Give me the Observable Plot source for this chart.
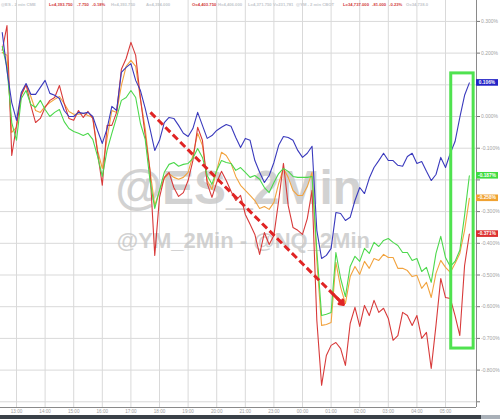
<!DOCTYPE html>
<html><head><meta charset="utf-8">
<script src="https://cdn.jsdelivr.net/npm/d3@7"></script>
<script src="https://cdn.jsdelivr.net/npm/@observablehq/plot@0.6"></script>
<style>
html,body{margin:0;padding:0;background:#fff;}
#wrap{position:relative;width:500px;height:419px;overflow:hidden;font-family:"Liberation Sans",Arial,sans-serif;}
#chart{position:absolute;left:0;top:0;}
#hdr{position:absolute;left:0;top:0;width:500px;height:9px;}
#hdr span{position:absolute;top:1.5px;font-size:4.2px;font-weight:bold;white-space:nowrap;line-height:5px;}
.g{color:#c3c7cc}.r{color:#d23a3a}
#bar{position:absolute;left:0;top:415px;width:481px;height:4px;background:#3a4148;}
#bar2{position:absolute;left:481px;top:415px;width:19px;height:4px;background:#a9b0b8;}
</style></head><body>
<div id="wrap"><div id="chart"></div><div id="hdr"></div><div id="bar"></div><div id="bar2"></div></div>
<script>
// session minutes from 13:00 (the 22:00 break hour is skipped)
const minutes = [-30,-20,-10,0,10,20,30,40,50,60,
 70,80,90,100,110,120,130,140,150,160,
 170,180,190,200,210,220,230,240,250,260,
 270,280,290,300,310,320,330,340,350,360,
 370,380,390,400,410,420,430,440,450,460,
 470,480,490,500,510,520,530,540,550,560,
 570,580,590,600,610,620,630,640,650,660,
 670,680,690,700,710,720,730,740,750,760,
 770,780,790,800,810,820,830,840,850,860,
 870,880,890,900,910,920,930,940,950];

// % change, blue series
const blueVals = [0.265,0.145,0.044,-0.012,0.076,0.104,0.070,0.070,0.092,0.114,
 0.073,0.067,0.057,0.019,0.000,0.000,0.013,0.010,0.013,0.000,
 -0.044,-0.085,-0.038,0.032,0.019,0.139,0.155,0.167,0.114,0.082,
 0.026,-0.038,-0.107,-0.075,-0.019,-0.003,-0.006,-0.028,-0.053,-0.063,
 -0.038,0.013,-0.028,-0.069,-0.060,-0.044,-0.034,-0.025,-0.031,-0.066,
 -0.098,-0.069,-0.075,-0.139,-0.176,-0.208,-0.186,-0.145,-0.091,-0.063,
 -0.066,-0.075,-0.107,-0.129,-0.116,-0.094,-0.359,-0.448,-0.438,-0.416,
 -0.303,-0.306,-0.328,-0.318,-0.265,-0.224,-0.243,-0.195,-0.161,-0.139,
 -0.116,-0.139,-0.139,-0.154,-0.157,-0.126,-0.116,-0.148,-0.142,-0.173,
 -0.202,-0.183,-0.129,-0.161,-0.116,-0.079,-0.003,0.067,0.106];

const redVals = [0.209,0.287,-0.123,-0.028,0.067,0.101,0.035,-0.019,-0.006,0.029,
 0.051,0.060,0.098,0.041,-0.006,-0.012,0.019,-0.003,0.016,-0.006,
 -0.113,-0.217,-0.028,-0.028,0.013,0.149,0.183,0.234,0.193,0.057,
 -0.060,-0.170,-0.438,-0.255,-0.192,-0.176,-0.224,-0.252,-0.240,-0.202,
 -0.139,-0.034,-0.075,-0.211,-0.255,-0.208,-0.173,-0.202,-0.236,-0.265,
 -0.249,-0.309,-0.340,-0.372,-0.435,-0.366,-0.404,-0.375,-0.265,-0.148,
 -0.281,-0.350,-0.359,-0.372,-0.322,-0.233,-0.643,-0.848,-0.754,-0.722,
 -0.713,-0.732,-0.785,-0.653,-0.602,-0.662,-0.596,-0.628,-0.580,-0.618,
 -0.605,-0.637,-0.706,-0.691,-0.618,-0.628,-0.659,-0.628,-0.700,-0.681,
 -0.795,-0.659,-0.511,-0.571,-0.574,-0.628,-0.691,-0.470,-0.371];

const orangeVals = [0.202,0.193,-0.050,-0.034,0.067,0.101,0.063,0.019,0.013,0.032,
 0.044,0.054,0.063,0.041,0.016,0.007,0.007,0.010,0.003,-0.003,
 -0.107,-0.164,-0.069,0.019,0.013,0.098,0.158,0.177,0.158,0.054,
 -0.038,-0.170,-0.281,-0.233,-0.195,-0.180,-0.192,-0.198,-0.192,-0.176,
 -0.123,-0.053,-0.091,-0.202,-0.230,-0.170,-0.113,-0.123,-0.148,-0.189,
 -0.217,-0.233,-0.249,-0.265,-0.290,-0.284,-0.293,-0.271,-0.211,-0.164,
 -0.192,-0.233,-0.249,-0.249,-0.221,-0.176,-0.454,-0.659,-0.656,-0.650,
 -0.460,-0.539,-0.590,-0.505,-0.473,-0.498,-0.457,-0.479,-0.448,-0.454,
 -0.435,-0.445,-0.445,-0.479,-0.479,-0.486,-0.505,-0.501,-0.542,-0.523,
 -0.571,-0.495,-0.454,-0.476,-0.492,-0.464,-0.432,-0.359,-0.258];

const greenVals = [0.221,0.155,-0.019,-0.075,0.057,0.082,0.038,0.029,0.051,0.022,
 0.000,0.013,0.022,-0.016,-0.038,-0.047,-0.053,-0.060,-0.053,-0.072,
 -0.126,-0.189,-0.107,-0.053,-0.003,0.051,0.060,0.082,0.060,-0.022,
 -0.072,-0.202,-0.290,-0.233,-0.176,-0.151,-0.145,-0.157,-0.151,-0.148,
 -0.132,-0.101,-0.129,-0.186,-0.214,-0.170,-0.139,-0.145,-0.148,-0.170,
 -0.161,-0.176,-0.192,-0.186,-0.198,-0.224,-0.240,-0.208,-0.180,-0.164,
 -0.173,-0.189,-0.192,-0.192,-0.192,-0.189,-0.422,-0.628,-0.624,-0.618,
 -0.429,-0.511,-0.568,-0.473,-0.441,-0.457,-0.416,-0.432,-0.397,-0.410,
 -0.391,-0.385,-0.397,-0.407,-0.429,-0.429,-0.454,-0.448,-0.489,-0.476,
 -0.523,-0.432,-0.378,-0.445,-0.473,-0.457,-0.422,-0.312,-0.187];

const hourTicks = [0,60,120,180,240,300,360,420,480,540,600,660,720,780,840,900];
const hourLabels = ["13:00","14:00","15:00","16:00","17:00","18:00","19:00","20:00","21:00","23:00","00:00","01:00","02:00","03:00","04:00","05:00"];
const yTicks = [0.3,0.2,0.1,0,-0.1,-0.2,-0.3,-0.4,-0.5,-0.6,-0.7,-0.8,-0.9];

const lastTags = [
 {label:"0.106%", value:0.106, color:"#2323c6"},
 {label:"-0.187%", value:-0.187, color:"#3fdc3f"},
 {label:"-0.258%", value:-0.258, color:"#f0a232"},
 {label:"-0.371%", value:-0.371, color:"#dc3030"}
];

const headerParts = [
 {t:"@ES - 2 min CME", x:1, c:"g"}, {t:"L=4,393.750", x:49, c:"r"}, {t:"-7.750", x:77, c:"r"},
 {t:"-0.18%", x:92, c:"r"}, {t:"H=4,393.750", x:111, c:"g"}, {t:"A=4,394.000", x:146, c:"g"},
 {t:"O=4,403.750", x:192, c:"r"}, {t:"H=4,406.000", x:218, c:"g"}, {t:"L=4,371.750", x:248, c:"g"},
 {t:"V=231,781", x:273, c:"g"}, {t:"@YM - 2 min CBOT", x:296, c:"g"}, {t:"L=34,737.000", x:343, c:"r"},
 {t:"-81.000", x:372, c:"r"}, {t:"-0.23%", x:389, c:"r"}, {t:"O=34,738.0", x:406, c:"g"}
];

// annotations (data space)
const watermarks = [
 {text:"@ES_2Min", m:466, v:-0.227, size:48},
 {text:"@YM_2Min - @NQ_2Min", m:476, v:-0.394, size:22}
];
const trendArrow = [{m1:281, v1:0.013, m2:686, v2:-0.593}];
const highlightBox = [{m1:912, m2:959, v1:0.136, v2:-0.732}];

const series = [
 {name:"orange", values:orangeVals, color:"#f2a33e"},
 {name:"red", values:redVals, color:"#d83a3a"},
 {name:"green", values:greenVals, color:"#4cd84c"},
 {name:"blue", values:blueVals, color:"#3a3abd"}
];

const labelOf = new Map(hourTicks.map((t,i)=>[t, hourLabels[i]]));
const headPts = trendArrow.map(a => ({
  m1: a.m1 + (a.m2-a.m1)*0.95, v1: a.v1 + (a.v2-a.v1)*0.95, m2: a.m2, v2: a.v2
}));
// tick labels hidden under the last-value tags
const covered = d => lastTags.some(t => Math.abs(t.value - d) < 0.02);

function valueTags(index, scales, values, dimensions) {
  const g = d3.create("svg:g");
  const x0 = dimensions.width - dimensions.marginRight;
  for (const t of lastTags) {
    const y = scales.y(t.value);
    g.append("rect").attr("x", x0).attr("y", y - 3.3).attr("width", 22).attr("height", 6.6).attr("fill", t.color);
    g.append("text").attr("x", x0 + 11).attr("y", y).attr("dy", "0.35em")
      .attr("text-anchor", "middle").attr("fill", "white").attr("font-size", 4.8).attr("font-weight", "bold")
      .text(t.label);
  }
  return g.node();
}

const chart = Plot.plot({
  width: 500, height: 415,
  marginLeft: 0, marginRight: 24, marginTop: 0, marginBottom: 8,
  x: {domain: [-33.6, 965], axis: null},
  y: {domain: [-0.918, 0.366], axis: null},
  style: {fontFamily: "'Liberation Sans', Arial, sans-serif", fontSize: "5px", background: "white", overflow: "visible"},
  marks: [
    Plot.ruleX(hourTicks, {stroke: "#d9d9d9", strokeWidth: 1}),
    Plot.ruleY(yTicks, {stroke: "#d9d9d9", strokeWidth: 1}),
    Plot.text(watermarks, {x: "m", y: "v", text: "text", fontSize: d => d.size, fontWeight: "bold",
      fill: "#c4c4c4", fillOpacity: 0.75, textAnchor: "middle", lineAnchor: "middle"}),
    ...series.map(s => Plot.line(minutes.map((m,i)=>({m, v:s.values[i]})),
      {x: "m", y: "v", stroke: s.color, strokeWidth: 1.1})),
    Plot.link(trendArrow, {x1: "m1", y1: "v1", x2: "m2", y2: "v2", stroke: "#e02424", strokeWidth: 3, strokeDasharray: "7,3.5"}),
    Plot.arrow(headPts, {x1: "m1", y1: "v1", x2: "m2", y2: "v2", stroke: "#e02424", strokeWidth: 3, headLength: 9, headAngle: 70}),
    Plot.rect(highlightBox, {x1: "m1", x2: "m2", y1: "v1", y2: "v2", stroke: "#4fe24f", strokeWidth: 3, fill: "none"}),
    Plot.ruleX([965], {stroke: "#8a8a8a", strokeWidth: 1}),
    Plot.ruleY([-0.918], {stroke: "#8a8a8a", strokeWidth: 1}),
    Plot.axisY({anchor: "right", ticks: yTicks,
      tickFormat: d => (d <= -0.85 || covered(d)) ? "" : (Math.abs(d) < 1e-9 ? 0 : d).toFixed(3) + "%",
      tickSize: 3, tickPadding: 1.5, fontSize: 5, fill: "#a2a2a2", stroke: "#777", label: null}),
    Plot.axisX({anchor: "bottom", ticks: hourTicks, tickFormat: d => labelOf.get(d), tickSize: 0, tickPadding: 2,
      fontSize: 4.6, fill: "#a0a0a0", label: null}),
    valueTags
  ]
});
document.getElementById("chart").appendChild(chart);

const hdr = d3.select("#hdr");
for (const p of headerParts) hdr.append("span").attr("class", p.c).style("left", p.x + "px").text(p.t);
</script>
</body></html>
